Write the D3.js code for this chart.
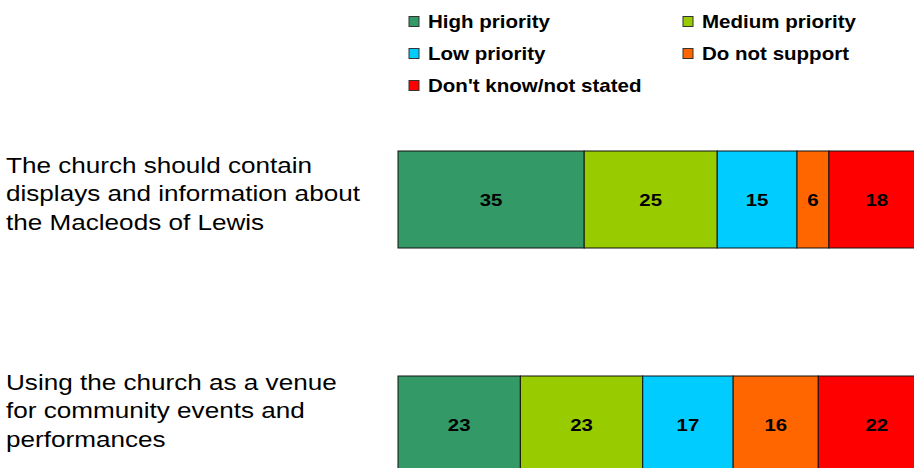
<!DOCTYPE html>
<html lang="en">
<head>
    <meta charset="UTF-8">
    <title>Church priorities</title>
    <script src="https://cdn.jsdelivr.net/npm/d3@7"></script>
    <style>
        body { margin: 0; background: #fff; }
        svg { display: block; font-family: "Liberation Sans", Arial, sans-serif; }
    </style>
</head>
<body>
<div id="chart"></div>
<script>
    // data
    var categories = [
        "The church should contain\ndisplays and information about\nthe Macleods of Lewis",
        "Using the church as a venue\nfor community events and\nperformances"
    ];
    var seriesNames = ["High priority", "Medium priority", "Low priority", "Do not support", "Don't know/not stated"];
    var seriesColors = ["#339966", "#99cc00", "#00ccff", "#ff6600", "#ff0000"];
    var highPriority = [35, 23];
    var mediumPriority = [25, 23];
    var lowPriority = [15, 17];
    var doNotSupport = [6, 16];
    var dontKnow = [18, 22];

    var width = 914, height = 468;
    var stretch = 1.16; // the original text is a bit wider than plain Arial

    var svg = d3.select("#chart").append("svg")
        .attr("width", width).attr("height", height);

    // build rows for the stack
    var rows = categories.map(function (c, i) {
        return {
            cat: c,
            "High priority": highPriority[i],
            "Medium priority": mediumPriority[i],
            "Low priority": lowPriority[i],
            "Do not support": doNotSupport[i],
            "Don't know/not stated": dontKnow[i]
        };
    });
    var stacked = d3.stack().keys(seriesNames)(rows);

    // scales
    var xScale = d3.scaleLinear().domain([0, 100]).range([398, 930]);
    var yScale = d3.scaleBand().domain(categories)
        .range([151, 473]).paddingInner(128 / 225).paddingOuter(0);
    var labelScale = d3.scalePoint().domain(categories).range([173, 390]);
    var color = d3.scaleOrdinal().domain(seriesNames).range(seriesColors);

    // bars
    var layer = svg.append("g").selectAll("g").data(stacked).enter().append("g")
        .attr("fill", function (d) { return color(d.key); });

    layer.selectAll("rect").data(function (d) { return d; }).enter().append("rect")
        .attr("x", function (d) { return xScale(d[0]); })
        .attr("y", function (d) { return yScale(d.data.cat); })
        .attr("width", function (d) { return xScale(d[1]) - xScale(d[0]); })
        .attr("height", yScale.bandwidth())
        .attr("stroke", "#111")
        .attr("stroke-width", 1);

    layer.selectAll("text").data(function (d) { return d; }).enter().append("text")
        .attr("transform", function (d) {
            var cx = (xScale(d[0]) + xScale(d[1])) / 2;
            var cy = yScale(d.data.cat) + yScale.bandwidth() / 2;
            return "translate(" + cx + "," + cy + ") scale(1.2,1)";
        })
        .attr("dy", "0.36em")
        .attr("text-anchor", "middle")
        .attr("fill", "#000")
        .style("font-size", "17px")
        .style("font-weight", "bold")
        .text(function (d) { return d[1] - d[0]; });

    // category labels (left side)
    var catLabel = svg.append("g").selectAll("text").data(categories).enter().append("text")
        .attr("transform", function (d) {
            return "translate(6," + labelScale(d) + ") scale(" + stretch + ",1)";
        })
        .style("font-size", "22.5px")
        .attr("fill", "#000");
    catLabel.selectAll("tspan").data(function (d) { return d.split("\n"); }).enter().append("tspan")
        .attr("x", 0)
        .attr("dy", function (d, i) { return i === 0 ? 0 : 28.5; })
        .text(function (d) { return d; });

    // legend
    var legend = svg.append("g").selectAll("g").data(seriesNames).enter().append("g")
        .attr("transform", function (d, i) {
            return "translate(" + (409 + (i % 2) * 274) + "," + (21.5 + Math.floor(i / 2) * 32) + ")";
        });
    legend.append("rect")
        .attr("x", 0).attr("y", -5).attr("width", 10).attr("height", 10)
        .attr("fill", function (d) { return color(d); })
        .attr("stroke", "#333");
    legend.append("text")
        .attr("transform", "translate(19,0) scale(1.14,1)")
        .attr("dy", "0.36em")
        .style("font-size", "18px").style("font-weight", "bold")
        .text(function (d) { return d; });
</script>
</body>
</html>
